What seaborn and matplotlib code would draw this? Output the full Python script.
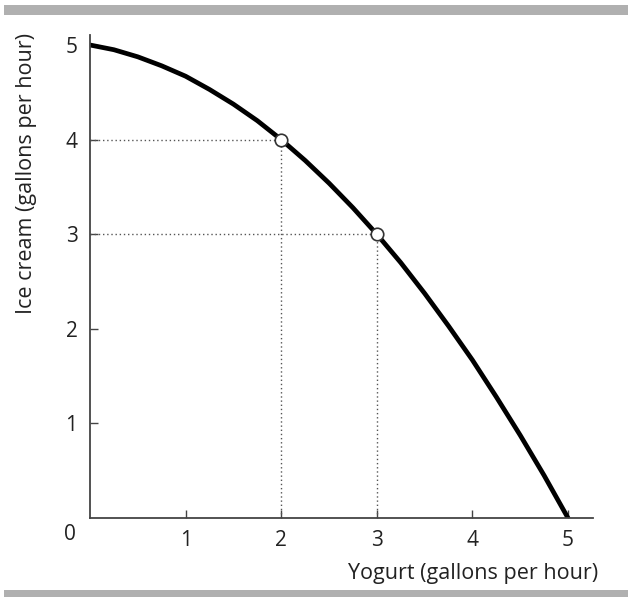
import matplotlib
matplotlib.use("Agg")
import matplotlib.pyplot as plt
import seaborn as sns
import pandas as pd
from matplotlib.patches import Rectangle

# Data
yogurt = [0, 0.25, 0.5, 0.75, 1, 1.25, 1.5, 1.75, 2, 2.25, 2.5, 2.75, 3,
          3.25, 3.5, 3.75, 4, 4.25, 4.5, 4.75, 5]
ice_cream = [5.0, 4.95, 4.875, 4.78, 4.67, 4.53, 4.375, 4.2, 4.0, 3.78, 3.54,
             3.28, 3.0, 2.70, 2.375, 2.03, 1.67, 1.28, 0.875, 0.45, 0.0]
point_x = [2, 3]
point_y = [4, 3]
x_ticks = [1, 2, 3, 4, 5]
y_ticks = [1, 2, 3, 4, 5]

sns.set_style("white")
plt.rcParams['font.family'] = ['Open Sans', 'DejaVu Sans']

fig = plt.figure(figsize=(6.28, 5.97), dpi=100)
ax = fig.add_axes([90/628, 1-518/597, 503/628, (518-35)/597])

df = pd.DataFrame({"yogurt": yogurt, "ice": ice_cream})

# dotted guides
for px, py in zip(point_x, point_y):
    ax.plot([0, px], [py, py], linestyle=(0, (1, 2)), color="#555555", lw=1.0, zorder=1)
    ax.plot([px, px], [0, py], linestyle=(0, (1, 2)), color="#555555", lw=1.0, zorder=1)

sns.lineplot(data=df, x="yogurt", y="ice", ax=ax, color="black", lw=3.4,
             sort=False, zorder=2)
ax.plot(point_x, point_y, 'o', markersize=9, markerfacecolor="white",
        markeredgecolor="#333333", markeredgewidth=1.2, zorder=3)

ax.set_xlim(0, 503/95.6)
ax.set_ylim(0, (518-35)/94.6)
ax.set_xticks(x_ticks)
ax.set_yticks(y_ticks)
ax.tick_params(direction="in", length=6, width=1, color="#444444",
               labelsize=15, pad=9, labelcolor="#222222",
               bottom=True, left=True)
for s in ["top", "right"]:
    ax.spines[s].set_visible(False)
for s in ["left", "bottom"]:
    ax.spines[s].set_color("#444444")
    ax.spines[s].set_linewidth(1.3)

ax.set_xlabel("")
ax.set_ylabel("")
fig.text(70/628, 1-535/597, "0", ha="center", va="center", fontsize=15, color="#222222")
fig.text(598/628, 1-573/597, "Yogurt (gallons per hour)", ha="right", va="center",
         fontsize=15.5, color="#222222")
fig.text(27/628, 1-33/597, "Ice cream (gallons per hour)", ha="center", va="top",
         rotation=90, fontsize=15.5, color="#222222")

# gray bars top and bottom
fig.patches.append(Rectangle((4/628, 1-15/597), 624/628, 10/597, transform=fig.transFigure,
                             facecolor="#b0b0b0", edgecolor="none"))
fig.patches.append(Rectangle((4/628, 0), 624/628, 7/597, transform=fig.transFigure,
                             facecolor="#b0b0b0", edgecolor="none"))

fig.savefig("out.png", dpi=100)
